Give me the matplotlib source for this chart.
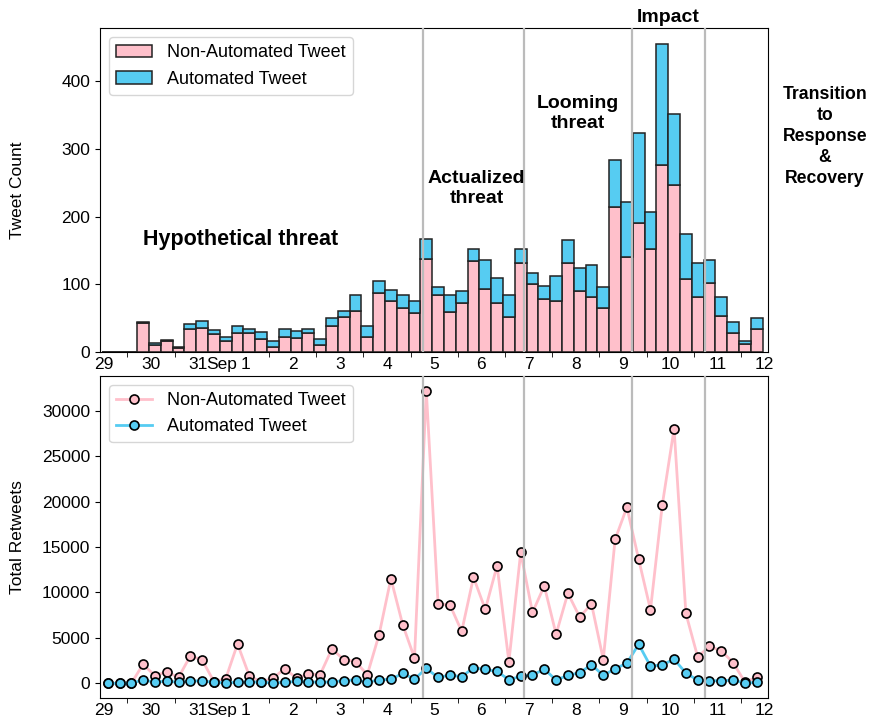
import matplotlib
matplotlib.use('Agg')
import matplotlib.pyplot as plt
import matplotlib.dates as mdates
import pandas as pd

plt.rcParams['font.family'] = ['Liberation Sans', 'DejaVu Sans']

# 6-hour bins (local time), Aug 29 14:00 -> Sep 12 08:00
bin_times = pd.date_range('2017-08-29 14:00', periods=56, freq='6h')

non_auto_count = [0, 1, 1, 43, 11, 16, 6, 35, 36, 27, 16, 28, 28, 19, 8, 23,
                  21, 29, 10, 39, 52, 61, 22, 88, 75, 66, 58, 138, 84, 60, 73, 134,
                  93, 72, 52, 131, 100, 78, 75, 131, 90, 82, 65, 214, 141, 191, 152, 276,
                  246, 108, 82, 102, 53, 28, 12, 35]
auto_count = [0, 0, 0, 2, 2, 2, 2, 6, 10, 6, 6, 10, 6, 11, 9, 12,
              11, 6, 10, 12, 9, 23, 16, 17, 17, 19, 17, 29, 12, 24, 17, 18,
              43, 38, 32, 21, 17, 20, 37, 34, 34, 47, 31, 70, 81, 133, 55, 179,
              106, 67, 49, 34, 29, 17, 5, 15]

non_auto_rt = [0, 0, 0, 2110, 830, 1270, 650, 3020, 2580, 200, 510, 4340, 830, 150, 580, 1600,
               580, 1020, 950, 3790, 2620, 2400, 950, 5360, 11520, 6460, 2780, 32200, 8710, 8640, 5720, 11670,
               8130, 12950, 2370, 14400, 7800, 10720, 5400, 9920, 7290, 8750, 2620, 15830, 19370, 13640, 8090, 19630,
               28020, 7690, 2910, 4080, 3570, 2290, 150, 650]
auto_rt = [0, 0, 0, 390, 110, 270, 110, 270, 270, 110, 70, 110, 180, 110, 70, 110,
           220, 180, 110, 180, 290, 400, 110, 400, 440, 1100, 470, 1640, 650, 910, 730, 1710,
           1530, 1310, 400, 770, 910, 1570, 360, 880, 1170, 2040, 880, 1600, 2220, 4300, 1890, 2040,
           2660, 1130, 360, 290, 290, 360, 20, 110]

phase_breaks = ['2017-09-05 06:30', '2017-09-07 09:40', '2017-09-09 16:30', '2017-09-11 05:40']

pink = 'pink'
blue = '#56CCF2'

x = mdates.date2num(bin_times)
bin_width = 0.25  # days

fig = plt.figure(figsize=(8.75, 7.17), dpi=100)
ax1 = fig.add_axes([0.1143, 0.5087, 0.7634, 0.4519])
ax2 = fig.add_axes([0.1143, 0.0265, 0.7634, 0.4491])

# --- tweet counts ---
ax1.bar(x, non_auto_count, width=bin_width, color=pink, edgecolor='#222222',
        linewidth=1.1, label='Non-Automated Tweet')
ax1.bar(x, auto_count, width=bin_width, bottom=non_auto_count, color=blue,
        edgecolor='#222222', linewidth=1.1, label='Automated Tweet')
ax1.set_ylabel('Tweet Count', fontsize=12.5)
ax1.set_yticks([0, 100, 200, 300, 400])
ax1.legend(loc='upper left', fontsize=13)

# --- retweets ---
ax2.plot(x, non_auto_rt, '-o', color=pink, lw=2, markersize=6.5,
         markerfacecolor=pink, markeredgecolor='black', markeredgewidth=1.2,
         label='Non-Automated Tweet')
ax2.plot(x, auto_rt, '-o', color=blue, lw=2, markersize=6.5,
         markerfacecolor=blue, markeredgecolor='black', markeredgewidth=1.2,
         label='Automated Tweet')
ax2.set_ylabel('Total Retweets', fontsize=12.5)
ax2.legend(loc='upper left', fontsize=13)

days = pd.date_range('2017-08-29', '2017-09-12', freq='D')
noons = days + pd.Timedelta(hours=12)
day_labels = [str(d.day) for d in days]
sep1 = mdates.date2num(pd.Timestamp('2017-09-01'))
xlim = mdates.date2num(pd.to_datetime(['2017-08-29 10:05', '2017-09-12 13:45']))

for ax in (ax1, ax2):
    for t in phase_breaks:
        ax.axvline(mdates.date2num(pd.Timestamp(t)), color='#bbbbbb', lw=1.6, zorder=3)
    ax.set_xlim(*xlim)
    ax.set_xticks(list(mdates.date2num(noons)) + [sep1])
    ax.set_xticklabels(day_labels + ['Sep'])
    ax.set_xticks(mdates.date2num(days[1:]), minor=True)
    ax.tick_params(axis='x', which='major', length=0, pad=3.5, labelsize=12.5)
    ax.tick_params(axis='x', which='minor', length=3.5)
    ax.tick_params(axis='y', labelsize=12.5)
    ax.yaxis.set_label_coords(-0.112, 0.5)

# phase annotations
bold = dict(fontweight='bold', ha='center', va='center', transform=ax1.transAxes)
ax1.text(0.211, 0.347, 'Hypothetical threat', fontsize=15.5, **bold)
ax1.text(0.564, 0.506, 'Actualized\nthreat', fontsize=14, **bold)
ax1.text(0.716, 0.737, 'Looming\nthreat', fontsize=14, **bold)
ax1.text(0.850, 1.032, 'Impact', fontsize=14, **bold)
ax1.text(1.085, 0.665, 'Transition\nto\nResponse\n&\nRecovery', fontsize=12.7,
         linespacing=1.3, **bold)

fig.savefig('out.png', dpi=100)
